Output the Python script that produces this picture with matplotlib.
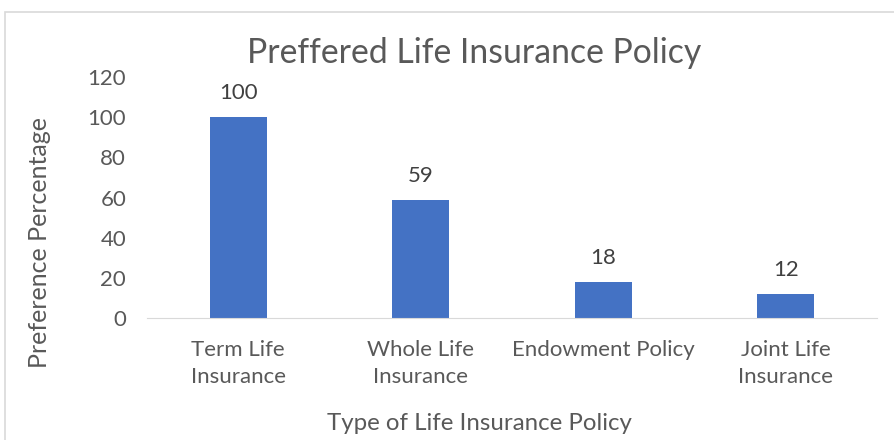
import matplotlib
matplotlib.use("Agg")
import matplotlib.pyplot as plt
from matplotlib.patches import Rectangle

categories = ["Term Life\nInsurance", "Whole Life\nInsurance", "Endowment Policy", "Joint Life\nInsurance"]
values = [100, 59, 18, 12]
yticks = [0, 20, 40, 60, 80, 100, 120]

plt.rcParams['font.family'] = ['Lato', 'DejaVu Sans']
grey = "#595959"

fig = plt.figure(figsize=(8.95, 4.4), dpi=100)
fig.patches.append(Rectangle((5/895, -0.01), 1.0, 1 - 12/440 + 0.01, transform=fig.transFigure,
                             fill=False, edgecolor="#d9d9d9", linewidth=1.2))

ax = fig.add_axes([147/895, 1 - 318/440, 730/895, 241/440])
x = list(range(len(categories)))
ax.bar(x, values, width=0.315, color="#4472C4")
ax.set_xlim(-0.5, len(categories) - 0.5)
ax.set_ylim(0, 120)
ax.set_yticks(yticks)
ax.set_xticks(x)
ax.set_xticklabels(categories, fontsize=16, color=grey, linespacing=1.45)
ax.tick_params(axis='y', labelsize=16, labelcolor=grey, length=0, pad=15)
ax.tick_params(axis='x', length=0, pad=16)
for s in ["top", "right", "left"]:
    ax.spines[s].set_visible(False)
ax.spines["bottom"].set_color("#d9d9d9")

for xi, v in zip(x, values):
    ax.annotate(str(v), (xi, v), xytext=(0, 10), textcoords="offset points",
                ha="center", va="bottom", fontsize=16, color="#404040")

fig.text(474/895, 1 - 53/440, "Preffered Life Insurance Policy", ha="center", va="center",
         fontsize=24.3, color=grey)
fig.text(479/895, 1 - 423/440, "Type of Life Insurance Policy", ha="center", va="center",
         fontsize=17.3, color=grey)
fig.text(40/895, 1 - 243/440, "Preference Percentage", ha="center", va="center",
         rotation=90, fontsize=18, color=grey)

fig.savefig("out.png", dpi=100)
